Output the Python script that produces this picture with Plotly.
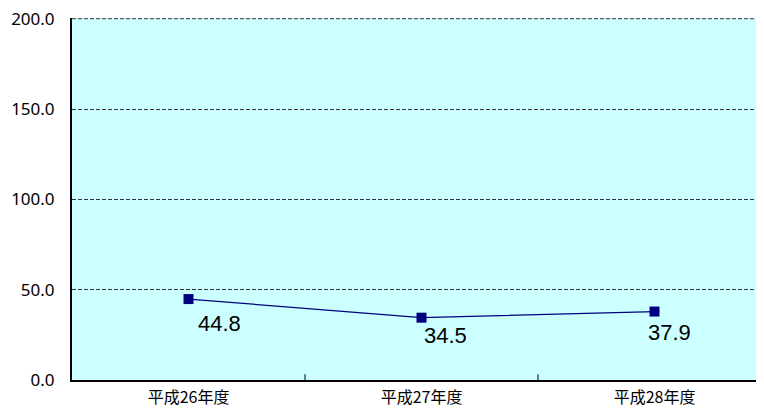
import plotly.graph_objects as go

categories = ["平成26年度", "平成27年度", "平成28年度"]
values = [44.8, 34.5, 37.9]
y_ticks = [0, 50, 100, 150, 200]
y_tick_labels = ["0.0", "50.0", "100.0", "150.0", "200.0"]

# label placement offsets (pixels) as in the original chart
label_dx = [31, 24, 15]
label_dy = [-24, -18, -21]

fig = go.Figure()
fig.add_trace(go.Scatter(
    x=[0, 1, 2], y=values, mode="lines+markers",
    line=dict(color="#000080", width=1.2),
    marker=dict(symbol="square", size=10, color="#000080"),
    showlegend=False, hoverinfo="skip",
))
for i, v in enumerate(values):
    fig.add_annotation(x=i, y=v, text=f"{v:.1f}", showarrow=False,
                       xanchor="center", yanchor="middle",
                       xshift=label_dx[i], yshift=label_dy[i],
                       font=dict(family="Liberation Sans, Arial, sans-serif", size=22, color="#000000"))

fig.update_layout(
    width=764, height=410,
    margin=dict(l=64, r=1, t=10, b=38, autoexpand=False),
    paper_bgcolor="#FFFFFF", plot_bgcolor="#CCFFFF",
    font=dict(family="Noto Sans CJK JP, sans-serif", color="#000000"),
)
fig.update_xaxes(
    range=[-0.5, 2.5], tickmode="array", tickvals=[0, 1, 2], ticktext=categories,
    tickfont=dict(size=16, family="Noto Sans CJK JP, sans-serif"),
    showgrid=False, showline=True, linecolor="#000000", linewidth=2,
    ticks="", zeroline=False, ticklabelstandoff=2,
)
fig.update_yaxes(
    range=[0, 200.4], tickmode="array", tickvals=y_ticks, ticktext=y_tick_labels,
    tickfont=dict(size=17, family="Noto Sans, sans-serif"),
    showgrid=True, gridcolor="#333333", griddash="4px,2px", gridwidth=1,
    showline=True, linecolor="#000000", linewidth=2, ticks="", ticklen=0,
    zeroline=False, ticklabelstandoff=12, ticklabeloverflow="allow",
)
# top gridline (at the upper edge of the axis range)
fig.add_shape(type="line", xref="paper", yref="y", x0=0, x1=1, y0=y_ticks[-1], y1=y_ticks[-1],
              line=dict(color="#333333", width=1, dash="4px,2px"), layer="below")
# inside tick marks at category boundaries
for b in [0.5, 1.5]:
    fig.add_shape(type="line", xref="x", yref="paper", x0=b, x1=b, y0=0, y1=0.016,
                  line=dict(color="#000000", width=1))

fig.write_html("out.html")
